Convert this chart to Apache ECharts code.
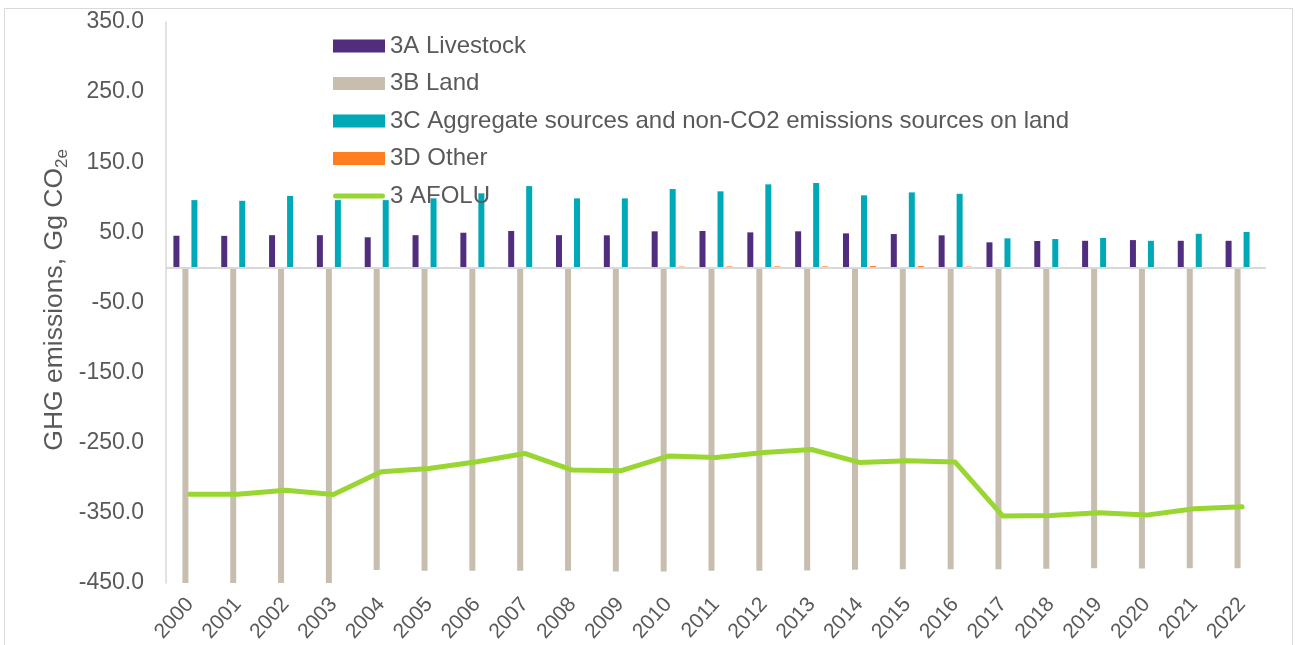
<!DOCTYPE html>
<html>
<head>
<meta charset="utf-8">
<title>AFOLU GHG emissions</title>
<script src="https://cdn.jsdelivr.net/npm/echarts@6/dist/echarts.min.js"></script>
<style>
  html, body { margin: 0; padding: 0; background: #ffffff; }
  #chart { width: 1295px; height: 645px; }
</style>
</head>
<body>
<div id="chart"></div>
<script>
// Sector emissions, Gg CO2e
const years = ['2000','2001','2002','2003','2004','2005','2006','2007','2008','2009','2010','2011',
               '2012','2013','2014','2015','2016','2017','2018','2019','2020','2021','2022'];
const livestock = [45.2, 45.0, 46.0, 46.0, 43.0, 46.0, 49.5, 52.0, 46.0, 45.8, 51.5, 52.0,
                   50.0, 51.5, 48.6, 47.6, 45.8, 35.8, 37.7, 38.0, 39.0, 38.0, 38.0];
const land = [-464.0, -463.0, -465.6, -465.7, -431.6, -432.6, -432.6, -432.6, -432.6, -433.6, -433.6, -432.6,
              -432.6, -432.0, -431.0, -430.5, -430.5, -430.5, -429.8, -428.8, -429.3, -428.8, -429.0];
const aggregate = [96.0, 95.0, 102.0, 96.0, 96.0, 98.5, 105.7, 116.0, 98.5, 98.5, 111.8, 108.5,
                   118.5, 120.4, 102.8, 107.0, 105.0, 41.5, 40.5, 42.0, 38.0, 48.0, 50.5];
const other = [0, 0, 0, 0, 0, 0, 0, 0, 0, 0.3, 1.2, 1.5,
               1.5, 1.5, 2.0, 2.0, 1.2, 0, 0, 0, 0, 0, 0];
const afolu = [-323.3, -323.5, -317.6, -323.7, -291.4, -286.7, -277.2, -265.3, -289.0, -290.0, -269.0, -271.0,
               -263.8, -259.6, -278.0, -275.7, -277.6, -354.6, -353.7, -349.9, -353.2, -344.2, -341.3];
const yTicks = [-450, -350, -250, -150, -50, 50, 150, 250, 350];

const seriesNames = ['3A Livestock', '3B Land', '3C Aggregate sources and non-CO2 emissions sources on land', '3D Other', '3 AFOLU'];
const colors = ['#512D7E', '#C8BEB0', '#00A9B7', '#FF7F20', '#99D631'];

const FONT = "'Liberation Sans', Arial, sans-serif";
const TEXT = '#595959';
const AXIS = '#D9D9D9';

const chart = echarts.init(document.getElementById('chart'), null, { renderer: 'canvas' });

function barSeries(name, data, color) {
  return {
    name: name,
    type: 'bar',
    data: data,
    barWidth: 6,
    barGap: '50%',
    itemStyle: { color: color },
    emphasis: { disabled: true },
    animation: false
  };
}

const series = [
  barSeries(seriesNames[0], livestock, colors[0]),
  barSeries(seriesNames[1], land, colors[1]),
  barSeries(seriesNames[2], aggregate, colors[2]),
  barSeries(seriesNames[3], other, colors[3]),
  {
    name: seriesNames[4],
    type: 'line',
    data: afolu,
    symbol: 'none',
    showSymbol: false,
    z: 5,
    lineStyle: { color: colors[4], width: 5, cap: 'round', join: 'round' },
    itemStyle: { color: colors[4] },
    emphasis: { disabled: true },
    animation: false
  }
];

// zero baseline across the plot
series[0].markLine = {
  silent: true,
  symbol: 'none',
  label: { show: false },
  lineStyle: { color: AXIS, width: 2, type: 'solid' },
  data: [{ yAxis: 0 }],
  animation: false
};

// rounded stroke used as the legend key of the total line
const lineKey = 'path://M2.5,0 L49.5,0 A2.5,2.5 0 0 1 49.5,5 L2.5,5 A2.5,2.5 0 0 1 2.5,0 Z';

chart.setOption({
  animation: false,
  backgroundColor: '#ffffff',
  textStyle: { fontFamily: FONT },
  graphic: [
    {
      type: 'rect',
      silent: true,
      z: -10,
      shape: { x: 4.5, y: 8.5, width: 1288, height: 700 },
      style: { fill: null, stroke: AXIS, lineWidth: 1 }
    },
    {
      // vertical axis title
      type: 'text',
      silent: true,
      x: 55,
      y: 168,
      rotation: Math.PI / 2,
      style: {
        text: 'GHG emissions, Gg CO',
        fill: TEXT,
        fontSize: 26.5,
        fontFamily: FONT,
        textAlign: 'right',
        textVerticalAlign: 'middle'
      }
    },
    {
      type: 'text',
      silent: true,
      x: 62.5,
      y: 168,
      rotation: Math.PI / 2,
      style: {
        text: '2e',
        fill: TEXT,
        fontSize: 17,
        fontFamily: FONT,
        textAlign: 'left',
        textVerticalAlign: 'middle'
      }
    }
  ],
  grid: { left: 166, right: 29, top: 22, bottom: 62 },
  legend: {
    orient: 'vertical',
    left: 333,
    top: 34,
    padding: 0,
    itemWidth: 52,
    itemHeight: 13,
    itemGap: 13.5,
    selectedMode: false,
    textStyle: { color: TEXT, fontSize: 24, fontFamily: FONT },
    data: [
      { name: seriesNames[0], icon: 'rect' },
      { name: seriesNames[1], icon: 'rect' },
      { name: seriesNames[2], icon: 'rect' },
      { name: seriesNames[3], icon: 'rect' },
      { name: seriesNames[4], icon: lineKey }
    ]
  },
  xAxis: {
    type: 'category',
    data: years,
    position: 'bottom',
    axisLine: { show: false, onZero: false },
    axisTick: { show: false },
    splitLine: { show: false },
    axisLabel: {
      interval: 0,
      rotate: 48,
      margin: 18,
      color: TEXT,
      fontSize: 21,
      fontFamily: FONT
    }
  },
  yAxis: {
    type: 'value',
    min: -450,
    max: 350,
    axisLine: { show: true, lineStyle: { color: AXIS, width: 1.5 } },
    axisTick: { show: false },
    splitLine: { show: false },
    axisLabel: {
      customValues: yTicks,
      margin: 22,
      color: TEXT,
      fontSize: 23,
      fontFamily: FONT,
      formatter: function (v) { return v.toFixed(1); }
    }
  },
  series: series
});
</script>
</body>
</html>
